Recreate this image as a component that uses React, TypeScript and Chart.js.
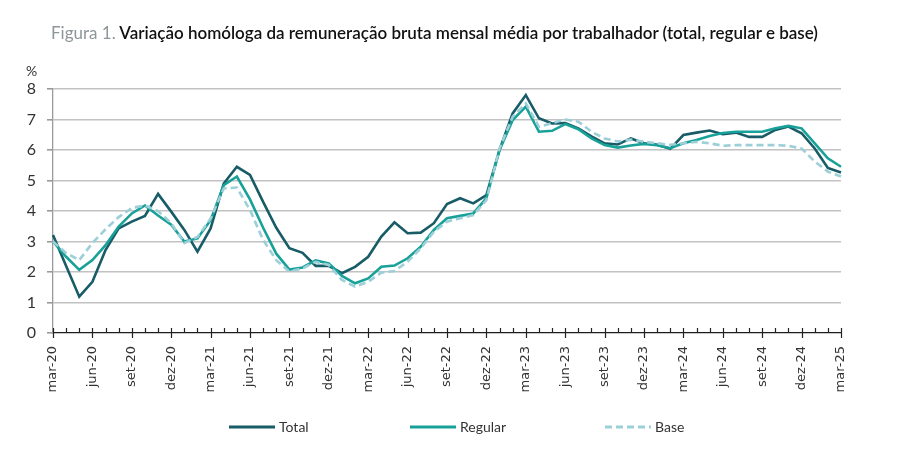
import React, { useEffect, useRef } from "react";
import { Chart, registerables } from "chart.js";

Chart.register(...registerables);

const categories = [
  "mar-20", "abr-20", "mai-20", "jun-20", "jul-20", "ago-20", "set-20", "out-20", "nov-20", "dez-20",
  "jan-21", "fev-21", "mar-21", "abr-21", "mai-21", "jun-21", "jul-21", "ago-21", "set-21", "out-21",
  "nov-21", "dez-21", "jan-22", "fev-22", "mar-22", "abr-22", "mai-22", "jun-22", "jul-22", "ago-22",
  "set-22", "out-22", "nov-22", "dez-22", "jan-23", "fev-23", "mar-23", "abr-23", "mai-23", "jun-23",
  "jul-23", "ago-23", "set-23", "out-23", "nov-23", "dez-23", "jan-24", "fev-24", "mar-24", "abr-24",
  "mai-24", "jun-24", "jul-24", "ago-24", "set-24", "out-24", "nov-24", "dez-24", "jan-25", "fev-25",
  "mar-25",
];

const totalValues = [
  3.21, 2.2, 1.19, 1.68, 2.72, 3.43, 3.65, 3.84, 4.56, 3.98,
  3.38, 2.67, 3.43, 4.9, 5.45, 5.18, 4.3, 3.45, 2.78, 2.63,
  2.2, 2.2, 1.96, 2.17, 2.5, 3.16, 3.63, 3.27, 3.29, 3.6,
  4.23, 4.42, 4.25, 4.52, 6.0, 7.2, 7.8, 7.04, 6.87, 6.88,
  6.71, 6.45, 6.22, 6.18, 6.38, 6.22, 6.17, 6.04, 6.49, 6.57,
  6.64, 6.52, 6.57, 6.43, 6.43, 6.66, 6.77, 6.55, 6.05, 5.41,
  5.26,
];

const regularValues = [
  3.0, 2.5, 2.07, 2.39, 2.88, 3.49, 3.92, 4.18, 3.85, 3.55,
  3.0, 3.1, 3.7, 4.85, 5.13, 4.38, 3.45, 2.6, 2.08, 2.15,
  2.38, 2.28, 1.87, 1.63, 1.79, 2.17, 2.21, 2.45, 2.83, 3.38,
  3.76, 3.84, 3.92, 4.42, 6.0, 6.98, 7.42, 6.6, 6.63, 6.85,
  6.68, 6.38, 6.16, 6.08, 6.15, 6.2, 6.16, 6.06, 6.22, 6.33,
  6.46, 6.56, 6.6, 6.6, 6.6, 6.71, 6.79, 6.71, 6.22, 5.73,
  5.45,
];

const baseValues = [
  3.0, 2.62, 2.39, 2.95, 3.4, 3.8, 4.1, 4.18, 4.0, 3.6,
  2.95, 3.15, 3.75, 4.74, 4.77, 4.03, 3.05, 2.39, 2.01, 2.12,
  2.33, 2.23, 1.74, 1.52, 1.68, 1.98, 2.03, 2.34, 2.78, 3.32,
  3.65, 3.76, 3.87, 4.36, 6.05, 7.09, 7.53, 6.76, 6.88, 7.0,
  6.93, 6.6, 6.38, 6.28, 6.34, 6.27, 6.22, 6.17, 6.22, 6.27,
  6.22, 6.14, 6.16, 6.16, 6.16, 6.16, 6.14, 6.05, 5.62, 5.29,
  5.13,
];

const seriesNames = ["Total", "Regular", "Base"];
const seriesColors = ["#175c66", "#18a198", "#9dcfd8"];
const seriesDashes: number[][] = [[], [], [7, 4]];
const yTicks = [0, 1, 2, 3, 4, 5, 6, 7, 8];

const titlePrefix = "Figura 1.";
const titleText = " Variação homóloga da remuneração bruta mensal média por trabalhador (total, regular e base)";
const unitLabel = "%";

const FONT = "Lato, 'Open Sans', sans-serif";

const xTickPlugin = {
  id: "xTickMarks",
  afterDraw(chart: any) {
    const x = chart.scales.x;
    const area = chart.chartArea;
    const ctx = chart.ctx;
    ctx.save();
    ctx.strokeStyle = "#222";
    ctx.lineWidth = 1.2;
    ctx.beginPath();
    for (let i = 0; i < categories.length; i++) {
      const px = Math.round(x.getPixelForValue(i)) + 0.5;
      const major = i % 3 === 0;
      ctx.moveTo(px, area.bottom - 5);
      ctx.lineTo(px, area.bottom + (major ? 5 : 0));
    }
    ctx.stroke();
    ctx.restore();
  },
};

export default function App() {
  const canvasRef = useRef<HTMLCanvasElement | null>(null);

  useEffect(() => {
    document.body.style.margin = "0";
    const canvas = canvasRef.current;
    if (!canvas) return;
    const chart = new Chart(canvas, {
      type: "line",
      data: {
        labels: categories,
        datasets: [totalValues, regularValues, baseValues].map((vals, k) => ({
          label: seriesNames[k],
          data: vals,
          borderColor: seriesColors[k],
          backgroundColor: seriesColors[k],
          borderWidth: 2.6,
          borderDash: seriesDashes[k],
          pointRadius: 0,
          tension: 0,
          fill: false,
          order: 3 - k,
        })),
      },
      options: {
        animation: false,
        responsive: false,
        maintainAspectRatio: false,
        layout: { padding: { left: 8, right: 59, top: 89, bottom: 70 } },
        plugins: {
          legend: { display: false },
          tooltip: { enabled: false },
          title: { display: false },
        },
        scales: {
          x: {
            type: "category",
            offset: false,
            grid: { display: false, drawTicks: false },
            border: { display: true, color: "#1e1e1e", width: 1.3 },
            ticks: {
              autoSkip: false,
              maxRotation: 90,
              minRotation: 90,
              padding: 13,
              color: "#333",
              font: { family: "'DejaVu Sans', Verdana, sans-serif", size: 13 },
              callback: (_v: any, i: number) => (i % 3 === 0 ? categories[i] : ""),
            },
            afterFit: (s: any) => {
              s.height = 60;
            },
          },
          y: {
            min: 0,
            max: 8,
            afterBuildTicks: (s: any) => {
              s.ticks = yTicks.map((v) => ({ value: v }));
            },
            grid: {
              color: (c: any) => (c.tick && c.tick.value === 0 ? "rgba(0,0,0,0)" : "#c2c2c2"),
              lineWidth: 1.6,
              drawTicks: true,
              tickLength: 6,
              tickColor: "#9a9a9a",
            },
            border: { display: true, color: "#9a9a9a", width: 1.3 },
            ticks: {
              padding: 11,
              color: "#333",
              font: { family: FONT, size: 16 },
            },
            afterFit: (s: any) => {
              s.width = 45;
            },
          },
        },
      },
      plugins: [xTickPlugin],
    });
    return () => chart.destroy();
  }, []);

  return (
    <div style={{ position: "relative", width: 900, height: 463, background: "#fff", overflow: "hidden" }}>
      <canvas ref={canvasRef} width={900} height={463} style={{ position: "absolute", left: 0, top: 0, width: 900, height: 463 }} />
      <div
        style={{
          position: "absolute",
          left: 51,
          top: 22,
          fontFamily: FONT,
          fontSize: 17,
          whiteSpace: "nowrap",
          color: "#111",
          fontWeight: 600,
        }}
      >
        <span style={{ color: "#8d9799", fontWeight: 400 }}>{titlePrefix}</span>
        {titleText}
      </div>
      <div style={{ position: "absolute", left: 26, top: 62, fontFamily: FONT, fontSize: 14, color: "#333" }}>{unitLabel}</div>
      <div style={{ position: "absolute", left: 0, top: 418, width: 900, height: 20 }}>
        {seriesNames.map((name, k) => (
          <div
            key={name}
            style={{
              position: "absolute",
              left: [228, 409, 604][k],
              top: 0,
              display: "flex",
              alignItems: "center",
              fontFamily: FONT,
              fontSize: 14,
              color: "#333",
            }}
          >
            <svg width={48} height={10} style={{ marginRight: 3 }}>
              <line
                x1={1}
                y1={5}
                x2={47}
                y2={5}
                stroke={seriesColors[k]}
                strokeWidth={3}
                strokeDasharray={seriesDashes[k].length ? "7 4" : undefined}
              />
            </svg>
            <span>{name}</span>
          </div>
        ))}
      </div>
    </div>
  );
}
